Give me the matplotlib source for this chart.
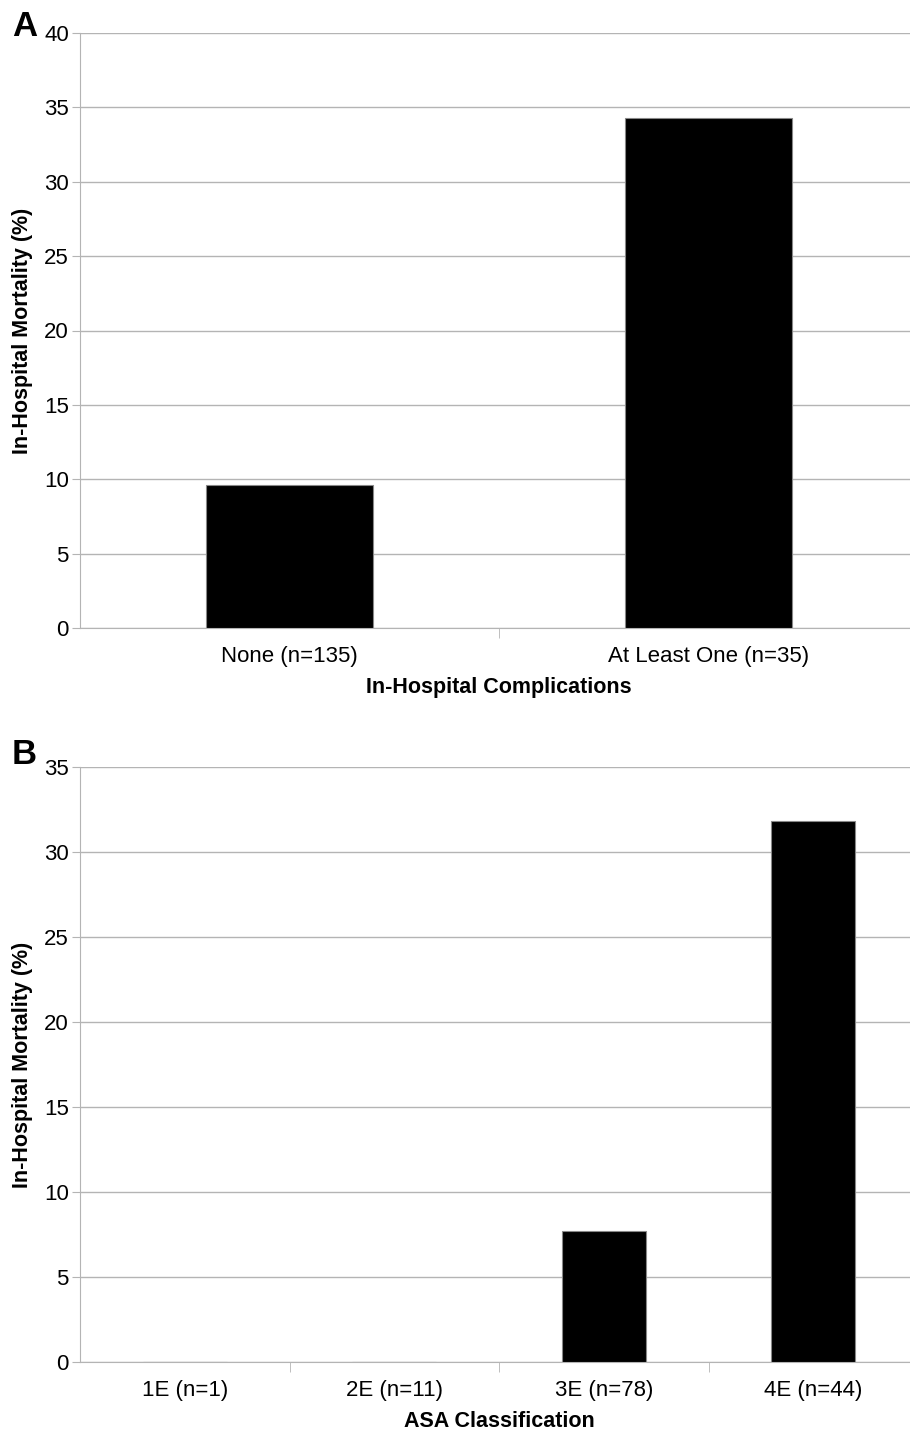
import numpy as np
import matplotlib.pyplot as plt

plt.rcParams['font.family'] = ['Liberation Sans', 'DejaVu Sans']

comp_labels = ['None (n=135)', 'At Least One (n=35)']
comp_mortality = [9.6, 34.3]

asa_labels = ['1E (n=1)', '2E (n=11)', '3E (n=78)', '4E (n=44)']
asa_mortality = [0, 0, 7.7, 31.8]

W, H = 910, 1433
fig = plt.figure(figsize=(W / 100, H / 100), dpi=100)

grid_c = '#b4b4b4'


def panel(rect, labels, values, ymax, xlabel, letter, letter_y):
    ax = fig.add_axes(rect)
    n = len(labels)
    x = np.arange(n)
    ax.bar(x, values, width=0.4, color='black', edgecolor='#888888',
           linewidth=0.8, zorder=3)
    ax.set_xlim(-0.5, n - 0.5)
    ax.set_ylim(0, ymax)
    ax.set_yticks(np.arange(0, ymax + 1, 5))
    ax.yaxis.grid(True, color=grid_c, linewidth=1.0, zorder=0)
    ax.set_xticks(x)
    ax.set_xticklabels(labels, fontsize=16)
    ax.tick_params(axis='x', length=0, pad=13)
    ax.set_xticks(np.arange(0.5, n - 0.5), minor=True)
    ax.tick_params(axis='x', which='minor', length=7, color=grid_c)
    ax.tick_params(axis='y', labelsize=16, length=6, color=grid_c, pad=2)
    for s in ['top', 'right']:
        ax.spines[s].set_visible(False)
    for s in ['left', 'bottom']:
        ax.spines[s].set_color(grid_c)
    ax.set_xlabel(xlabel, fontsize=15.5, fontweight='bold', labelpad=7)
    ax.set_ylabel('In-Hospital Mortality (%)', fontsize=15.5,
                  fontweight='bold', labelpad=8)
    fig.text(12 / W, 1 - letter_y / H, letter, fontsize=25,
             fontweight='bold', ha='left', va='center')
    return ax


left = 80 / W
width = (918 - 80) / W
panel([left, 1 - 628 / H, width, 595 / H], comp_labels, comp_mortality, 40,
      'In-Hospital Complications', 'A', 26)
panel([left, 1 - 1362 / H, width, 595 / H], asa_labels, asa_mortality, 35,
      'ASA Classification', 'B', 754)

fig.savefig('out.png', dpi=100)
